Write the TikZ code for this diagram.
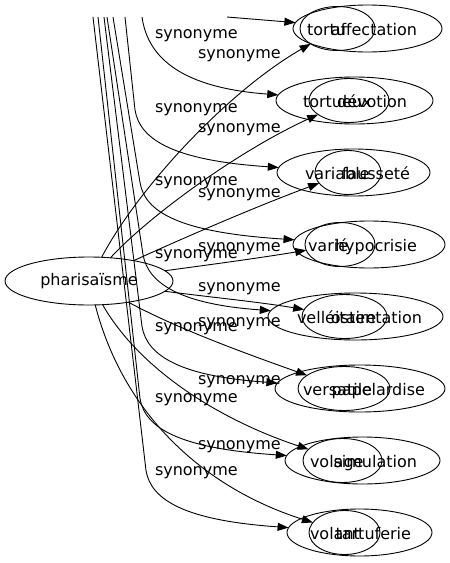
\documentclass[tikz,border=0pt]{standalone}
\usepackage{fontspec}
\setmainfont{DejaVu Sans}
\usetikzlibrary{arrows.meta,shapes.geometric}
\begin{document}
\begin{tikzpicture}[x=1pt,y=-1pt,
  every node/.style={inner sep=0pt,outer sep=0pt},
  txt/.style={font=\fontsize{16}{19}\selectfont},
  outerell/.style={draw,ellipse,line width=0.9pt,minimum height=47pt,minimum width=#1},
  innerell/.style={draw,ellipse,line width=0.9pt,minimum height=44pt,minimum width=#1},
  conn/.style={draw,line width=0.9pt,-{Triangle[length=11pt,width=8pt]}},
  wordB/.style={txt,anchor=base west},
  wordA/.style={txt,anchor=base east},
  lbl/.style={txt,anchor=base west}]
\useasboundingbox (0,0) rectangle (450,563);
% source node
\node[draw,ellipse,line width=0.9pt,minimum width=168pt,minimum height=48pt,txt] (P) at (89,281) {pharisaïsme};
% outer ellipses
\node[outerell=149pt] (o1) at (367.5,28.5) {};
\node[outerell=157pt] (o2) at (354.5,100.5) {};
\node[outerell=153pt] (o3) at (353.5,172.5) {};
\node[outerell=152pt] (o4) at (369,244.5) {};
\node[outerell=175pt] (o5) at (355.5,316.5) {};
\node[outerell=170pt] (o6) at (360,388.5) {};
\node[outerell=155pt] (o7) at (362.5,460.5) {};
\node[outerell=145pt] (o8) at (359.5,532.5) {};
% inner ellipses
\node[innerell=75pt] (i1) at (337.5,28.5) {};
\node[innerell=80pt] (i2) at (349,100.5) {};
\node[innerell=66pt] (i3) at (348,172.5) {};
\node[innerell=70pt] (i4) at (340,244.5) {};
\node[innerell=85pt] (i5) at (344.5,316.5) {};
\node[innerell=92pt] (i6) at (344,388.5) {};
\node[innerell=79pt] (i7) at (342.5,460.5) {};
\node[innerell=71pt] (i8) at (344.5,532.5) {};
% words
\node[wordB] (tb1) at (307,35.5) {tortu};
\node[wordA] (ta1) at (417,35.5) {affectation};
\node[wordB] (tb2) at (303,107.5) {tortueux};
\node[wordA] (ta2) at (407,107.5) {dévotion};
\node[wordB] (tb3) at (305,179.5) {variable};
\node[wordA] (ta3) at (410,179.5) {fausseté};
\node[wordB] (tb4) at (308,251.5) {varié};
\node[wordA] (ta4) at (417,251.5) {hypocrisie};
\node[wordB] (tb5) at (297,323.5) {velléitaire};
\node[wordA] (ta5) at (422,323.5) {ostentation};
\node[wordB] (tb6) at (303,395.5) {versatile};
\node[wordA] (ta6) at (425,395.5) {papelardise};
\node[wordB] (tb7) at (310,467.5) {volage};
\node[wordA] (ta7) at (417,467.5) {simulation};
\node[wordB] (tb8) at (310,539.5) {volant};
\node[wordA] (ta8) at (411,539.5) {tartuferie};
% free ends of the edges coming from above
\coordinate (B1) at (227,17);
\coordinate (B2) at (142,17);
\coordinate (B3) at (125,17);
\coordinate (B4) at (113,17);
\coordinate (B5) at (107,17);
\coordinate (B6) at (104,17);
\coordinate (B7) at (98,17);
\coordinate (B8) at (93,17);
% edges from above
\draw[conn] (B1) -- (o1);
\draw[conn] (B2) .. controls (148,60) and (185,88) .. (o2);
\draw[conn] (B3) -- (135,110) .. controls (140,140.5) and (175,160.5) .. (o3);
\draw[conn] (B4) -- (140,182.5) .. controls (145,212.5) and (180,232.5) .. (o4);
\draw[conn] (B5) -- (143,254.5) .. controls (148,284.5) and (183,304.5) .. (o5);
\draw[conn] (B6) -- (142,326.5) .. controls (147,356.5) and (182,376.5) .. (o6);
\draw[conn] (B7) -- (140,398.5) .. controls (145,428.5) and (180,448.5) .. (o7);
\draw[conn] (B8) -- (146,470.5) .. controls (151,500.5) and (186,520.5) .. (o8);
% edges from pharisaisme
\draw[conn] (P) .. controls (140,185) and (230,90) .. (i1);
\draw[conn] (P) .. controls (150,215) and (240,150) .. (i2);
\draw[conn] (P) .. controls (190,235) and (260,205) .. (i3);
\draw[conn] (P) .. controls (200,266) and (260,258) .. (i4);
\draw[conn] (P) .. controls (200,296) and (260,302) .. (i5);
\draw[conn] (P) .. controls (180,330) and (250,355) .. (i6);
\draw[conn] (P) .. controls (140,370) and (220,420) .. (i7);
\draw[conn] (P) .. controls (125,420) and (210,490) .. (i8);
% labels of edges from above
\node[lbl] (lb2) at (155,38) {synonyme};
\node[lbl] (lb3) at (155,112) {synonyme};
\node[lbl] (lb4) at (155,185) {synonyme};
\node[lbl] (lb5) at (155,258) {synonyme};
\node[lbl] (lb6) at (155,331) {synonyme};
\node[lbl] (lb7) at (155,402) {synonyme};
\node[lbl] (lb8) at (155,475) {synonyme};
% labels of edges from pharisaisme
\node[lbl] (la1) at (198,58) {synonyme};
\node[lbl] (la2) at (198,132) {synonyme};
\node[lbl] (la3) at (198,197) {synonyme};
\node[lbl] (la4) at (198,251) {synonyme};
\node[lbl] (la5) at (198,291) {synonyme};
\node[lbl] (la6) at (198,326) {synonyme};
\node[lbl] (la7) at (198,384) {synonyme};
\node[lbl] (la8) at (198,449) {synonyme};
\end{tikzpicture}
\end{document}
